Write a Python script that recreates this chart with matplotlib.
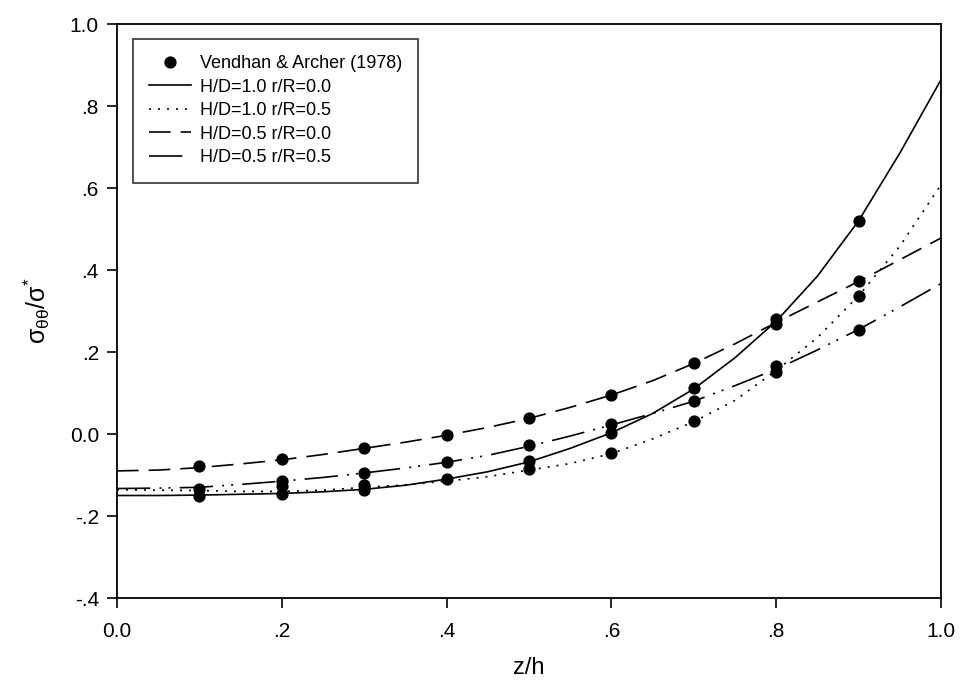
import matplotlib
matplotlib.use("Agg")
import matplotlib.pyplot as plt
from matplotlib.ticker import FixedLocator, FixedFormatter

plt.rcParams['font.family'] = ['Liberation Sans', 'DejaVu Sans']
plt.rcParams['mathtext.fontset'] = 'custom'
plt.rcParams['mathtext.rm'] = 'Liberation Sans'
plt.rcParams['mathtext.it'] = 'Liberation Sans'
plt.rcParams['mathtext.default'] = 'regular'

# ---- data ----
z = [0.0, 0.05, 0.1, 0.15, 0.2, 0.25, 0.3, 0.35, 0.4, 0.45, 0.5,
     0.55, 0.6, 0.65, 0.7, 0.75, 0.8, 0.85, 0.9, 0.95, 1.0]
hd10_r00 = [-0.150, -0.150, -0.149, -0.147, -0.145, -0.141, -0.135, -0.125, -0.110, -0.092, -0.068,
            -0.035, 0.003, 0.050, 0.110, 0.186, 0.275, 0.385, 0.520, 0.685, 0.864]
hd10_r05 = [-0.136, -0.137, -0.138, -0.140, -0.140, -0.137, -0.130, -0.124, -0.115, -0.104, -0.088,
            -0.072, -0.048, -0.012, 0.030, 0.082, 0.155, 0.235, 0.337, 0.458, 0.608]
hd05_r00 = [-0.090, -0.088, -0.082, -0.073, -0.063, -0.050, -0.035, -0.020, -0.003, 0.016, 0.038,
            0.065, 0.095, 0.130, 0.172, 0.220, 0.272, 0.322, 0.372, 0.425, 0.478]
hd05_r05 = [-0.133, -0.132, -0.130, -0.123, -0.115, -0.106, -0.095, -0.083, -0.069, -0.052, -0.030,
            -0.005, 0.022, 0.050, 0.080, 0.118, 0.158, 0.205, 0.255, 0.310, 0.367]

va_x = [0.1, 0.1, 0.1,
        0.2, 0.2, 0.2, 0.2,
        0.3, 0.3, 0.3, 0.3,
        0.4, 0.4, 0.4,
        0.5, 0.5, 0.5, 0.5,
        0.6, 0.6, 0.6, 0.6,
        0.7, 0.7, 0.7, 0.7,
        0.8, 0.8, 0.8, 0.8,
        0.9, 0.9, 0.9, 0.9]
va_y = [-0.079, -0.135, -0.150,
        -0.061, -0.114, -0.127, -0.146,
        -0.033, -0.094, -0.124, -0.137,
        -0.003, -0.068, -0.110,
        0.038, -0.028, -0.065, -0.085,
        0.095, 0.024, 0.002, -0.047,
        0.172, 0.111, 0.081, 0.032,
        0.280, 0.268, 0.165, 0.152,
        0.519, 0.374, 0.337, 0.254]

x_ticks = [0.0, 0.2, 0.4, 0.6, 0.8, 1.0]
x_ticklabels = ['0.0', '.2', '.4', '.6', '.8', '1.0']
y_ticks = [-0.4, -0.2, 0.0, 0.2, 0.4, 0.6, 0.8, 1.0]
y_ticklabels = ['-.4', '-.2', '0.0', '.2', '.4', '.6', '.8', '1.0']

labels = ['Vendhan & Archer (1978)', 'H/D=1.0 r/R=0.0', 'H/D=1.0 r/R=0.5',
          'H/D=0.5 r/R=0.0', 'H/D=0.5 r/R=0.5']

# ---- figure ----
fig = plt.figure(figsize=(9.61, 6.89), dpi=100)
ax = fig.add_axes([117/961, 1 - 598/689, (941 - 117)/961, (598 - 24)/689])

lw = 1.2
ax.plot(va_x, va_y, 'o', color='black', markersize=7.8, label=labels[0], zorder=5)
ax.plot(z, hd10_r00, color='black', lw=lw, linestyle='-', label=labels[1])
ax.plot(z, hd10_r05, color='black', lw=lw, linestyle=(0, (1.2, 4.2)), label=labels[2])
ax.plot(z, hd05_r00, color='black', lw=lw, linestyle=(0, (13, 6)), label=labels[3])
ax.plot(z, hd05_r05, color='black', lw=lw, linestyle=(0, (20, 5.5, 1.2, 4.2, 1.2, 5.5)), label=labels[4])

ax.set_xlim(0, 1.0)
ax.set_ylim(-0.4, 1.0)
ax.xaxis.set_major_locator(FixedLocator(x_ticks))
ax.xaxis.set_major_formatter(FixedFormatter(x_ticklabels))
ax.yaxis.set_major_locator(FixedLocator(y_ticks))
ax.yaxis.set_major_formatter(FixedFormatter(y_ticklabels))
ax.tick_params(axis='both', direction='out', length=7, width=1.2, labelsize=15, color='black')
ax.tick_params(axis='x', pad=10)
ax.tick_params(axis='y', pad=6)
for s in ax.spines.values():
    s.set_linewidth(1.3)
    s.set_color('black')

ax.set_xlabel('z/h', fontsize=17, labelpad=12)
ax.set_ylabel(r'$\sigma_{\theta\theta}/\sigma^{*}$', fontsize=18, labelpad=13)

leg = ax.legend(loc='upper left', bbox_to_anchor=((133 - 117)/824, 1 - (39 - 24)/574),
                borderaxespad=0, fontsize=13, frameon=True, fancybox=False,
                edgecolor='black', numpoints=1, handlelength=2.3, handletextpad=0.5,
                labelspacing=0.36, borderpad=0.9)
leg.get_frame().set_linewidth(1.2)

fig.savefig('out.png', dpi=100, facecolor='white')
